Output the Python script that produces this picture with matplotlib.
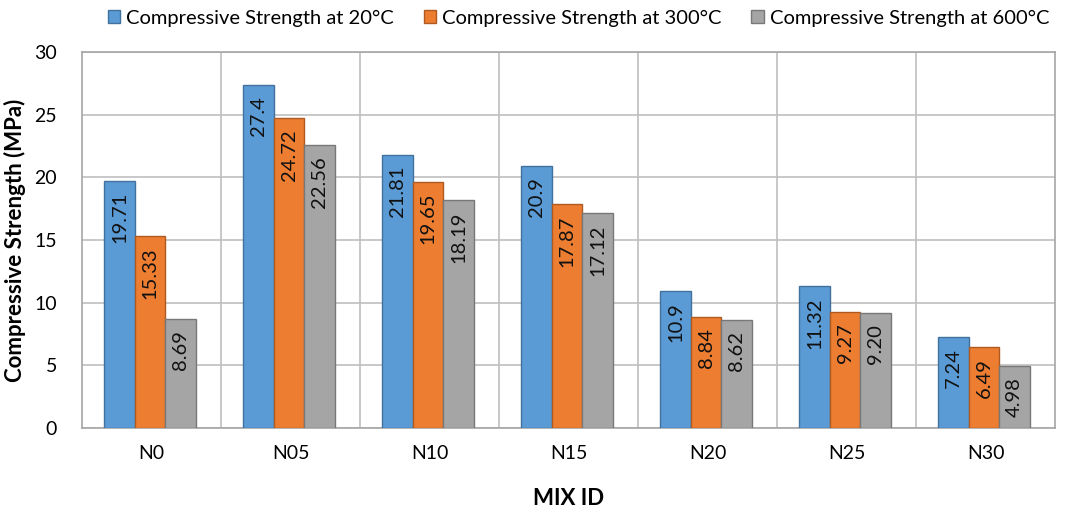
import numpy as np
import matplotlib.pyplot as plt

plt.rcParams['font.family'] = ['Lato', 'DejaVu Sans']

# data
mixes = ["N0", "N05", "N10", "N15", "N20", "N25", "N30"]
strength_20 = [19.71, 27.4, 21.81, 20.9, 10.9, 11.32, 7.24]
strength_300 = [15.33, 24.72, 19.65, 17.87, 8.84, 9.27, 6.49]
strength_600 = [8.69, 22.56, 18.19, 17.12, 8.62, 9.20, 4.98]
labels_20 = ["19.71", "27.4", "21.81", "20.9", "10.9", "11.32", "7.24"]
labels_300 = ["15.33", "24.72", "19.65", "17.87", "8.84", "9.27", "6.49"]
labels_600 = ["8.69", "22.56", "18.19", "17.12", "8.62", "9.20", "4.98"]

series = [
    ("Compressive Strength at 20°C", strength_20, labels_20, "#5B9BD5", "#41719C"),
    ("Compressive Strength at 300°C", strength_300, labels_300, "#ED7D31", "#AE5A21"),
    ("Compressive Strength at 600°C", strength_600, labels_600, "#A5A5A5", "#787878"),
]

fig = plt.figure(figsize=(10.67, 5.14), dpi=100)
ax = fig.add_axes([0.0769, 0.1673, 0.9119, 0.7315])

x = np.arange(len(mixes))
w = 0.22
for i, (name, vals, labs, col, edge) in enumerate(series):
    pos = x + (i - 1) * w - 0.01
    bars = ax.bar(pos, vals, w, color=col, edgecolor=edge, linewidth=1, label=name, zorder=3)
    for b, lab in zip(bars, labs):
        ax.annotate(lab, (b.get_x() + b.get_width() / 2, b.get_height()),
                    xytext=(0, -8), textcoords="offset points",
                    rotation=90, ha="center", va="top", fontsize=14.5, color="#111111", zorder=4)

ax.set_xlim(-0.5, len(mixes) - 0.5)
ax.set_ylim(0, 30)
ax.set_yticks(np.arange(0, 31, 5))
ax.set_xticks(x)
ax.set_xticklabels(mixes)
ax.set_xticks(np.arange(0.5, len(mixes) - 0.5, 1), minor=True)
ax.tick_params(axis="both", which="both", length=0, labelsize=14, pad=12)
ax.tick_params(axis="y", pad=18)
ax.grid(axis="y", color="#BFBFBF", linewidth=1.2, zorder=0)
ax.grid(axis="x", which="minor", color="#BFBFBF", linewidth=1.2, zorder=0)
for s in ax.spines.values():
    s.set_color("#A6A6A6")
    s.set_linewidth(1.2)

ax.set_ylabel("Compressive Strength (MPa)", fontsize=16, fontweight="bold", labelpad=6)
ax.set_xlabel("MIX ID", fontsize=16, fontweight="bold", labelpad=19)

fig.legend(loc="center", bbox_to_anchor=(0.542, 0.965), ncol=3, frameon=False,
           fontsize=14.5, handlelength=0.6, handleheight=0.6, handletextpad=0.3, columnspacing=1.5)

fig.savefig("out.png", dpi=100)
